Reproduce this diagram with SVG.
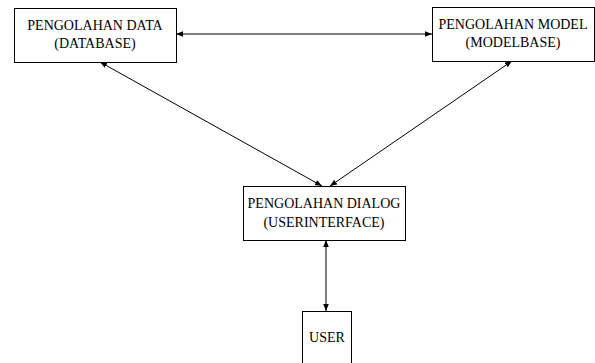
<svg xmlns="http://www.w3.org/2000/svg" width="595" height="363" viewBox="0 0 595 363">
<style>
.box{fill:#fff;stroke:#000;stroke-width:1}
.t{font-family:'Liberation Serif','Times New Roman','DejaVu Serif',serif;font-size:14px;text-anchor:middle;fill:#000}
.c{stroke:#000;stroke-width:1;fill:none;marker-start:url(#a);marker-end:url(#a)}
</style>
<defs>
<marker id="a" viewBox="0 0 10 10" refX="10" refY="5" markerWidth="7" markerHeight="7" orient="auto-start-reverse" markerUnits="userSpaceOnUse">
<path d="M0,1 L10,5 L0,9 Z" fill="#000"/>
</marker>
</defs>
<rect width="595" height="363" fill="#fff"/>
<g id="connectors">
<line class="c" x1="176" y1="34" x2="432" y2="34"/>
<line class="c" x1="100" y1="62" x2="322" y2="186"/>
<line class="c" x1="512" y1="61" x2="330" y2="186"/>
<line class="c" x1="326" y1="240" x2="326" y2="311"/>
</g>
<g id="data">
<rect class="box" x="14.5" y="8.5" width="162" height="54"/>
<text class="t" x="95" y="30">PENGOLAHAN DATA</text>
<text class="t" x="95" y="48">(DATABASE)</text>
</g>
<g id="model">
<rect class="box" x="432.5" y="7.5" width="162" height="54"/>
<text class="t" x="513" y="29">PENGOLAHAN MODEL</text>
<text class="t" x="513" y="47">(MODELBASE)</text>
</g>
<g id="dialog">
<rect class="box" x="243.5" y="186.5" width="162" height="54"/>
<text class="t" x="324" y="208">PENGOLAHAN DIALOG</text>
<text class="t" x="324" y="227">(USERINTERFACE)</text>
</g>
<g id="user">
<rect class="box" x="302.5" y="311.5" width="49" height="60"/>
<text class="t" x="327" y="342">USER</text>
</g>
</svg>
